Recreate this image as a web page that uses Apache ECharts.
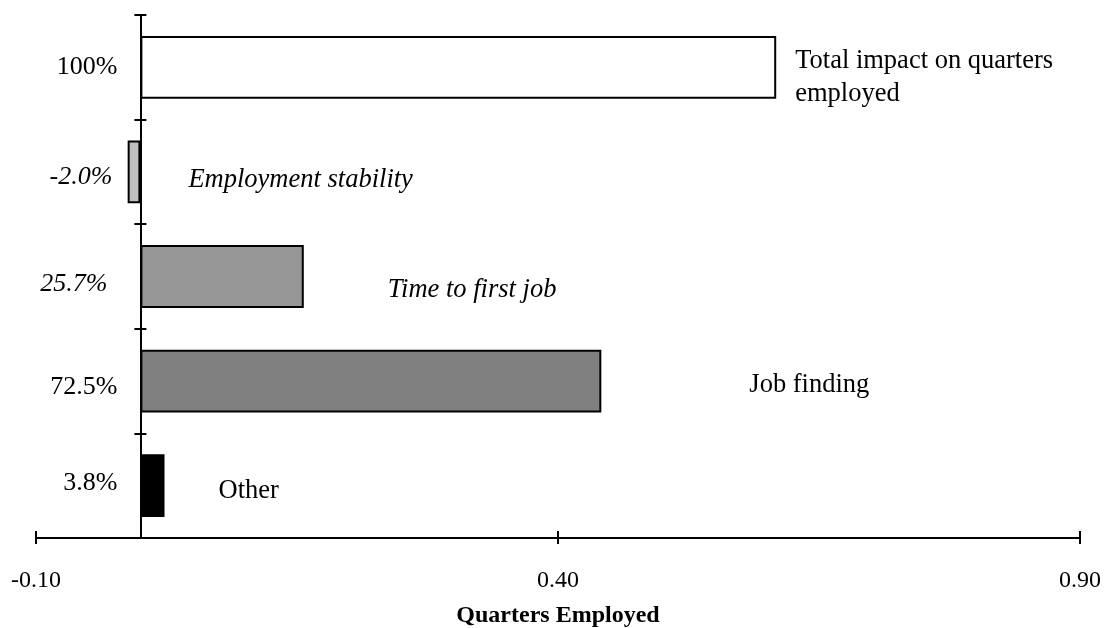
<!DOCTYPE html>
<html>
<head>
<meta charset="utf-8">
<script src="https://cdn.jsdelivr.net/npm/echarts@6/dist/echarts.min.js"></script>
<style>
html,body{margin:0;padding:0;background:#fff;}
#chart{width:1105px;height:628px;}
</style>
</head>
<body>
<div id="chart"></div>
<script>
// ---- data ----
const categories = ['Total impact on quarters employed', 'Employment stability', 'Time to first job', 'Job finding', 'Other'];
const values = [0.609, -0.0122, 0.1565, 0.4415, 0.0231];
const shareLabels = ['100%', '-2.0%', '25.7%', '72.5%', '3.8%'];
const annotationTexts = ['Total impact on quarters\nemployed', 'Employment stability', 'Time to first job', 'Job finding', 'Other'];
const xMin = -0.10, xMax = 0.90, xStep = 0.50;
const xTitle = 'Quarters Employed';

// ---- style ----
const FONT = '"Liberation Serif", "Times New Roman", serif';
const barColors = ['#ffffff', '#c0c0c0', '#969696', '#808080', '#000000'];
const italicIdx = [false, true, true, false, false];
const shareRich = ['p0', 'p1', 'p2', 'p3', 'p4'];
// annotation offsets relative to bar end / bar centre [dx, dy]
const annOffsets = [[19, 10], [48, 8], [84, 14], [148, 4], [54, 5]];
// share-label offsets relative to the zero line / band centre [dx(right edge), dy]
const shareOffsets = [[-23, 0], [-28, 5], [-33, 8], [-23, 6], [-23, -3]];

const chart = echarts.init(document.getElementById('chart'), null, {renderer: 'canvas'});

const option = {
  backgroundColor: '#ffffff',
  animation: false,
  grid: {left: 36, right: 25, top: 15, bottom: 90, containLabel: false, outerBoundsMode: 'none'},
  xAxis: [{
    type: 'value', min: xMin, max: xMax, interval: xStep,
    position: 'bottom',
    splitLine: {show: false},
    axisLine: {show: true, lineStyle: {color: '#000', width: 2}},
    axisTick: {show: true, inside: true, length: 7, lineStyle: {color: '#000', width: 2}},
    axisLabel: {fontFamily: FONT, fontSize: 24, color: '#000', margin: 31,
      formatter: v => v.toFixed(2)},
    name: xTitle, nameLocation: 'middle', nameGap: 66,
    nameTextStyle: {fontFamily: FONT, fontSize: 24, fontWeight: 'bold', color: '#000'}
  }, {
    type: 'value', min: xMin, max: xMax, interval: xStep,
    position: 'bottom',
    splitLine: {show: false},
    axisLine: {show: false},
    axisTick: {show: true, inside: false, length: 6, lineStyle: {color: '#000', width: 2}},
    axisLabel: {show: false}
  }],
  yAxis: [{
    type: 'category', data: categories, inverse: true,
    axisLine: {show: true, onZero: true, lineStyle: {color: '#000', width: 2}},
    axisTick: {show: true, inside: false, length: 6, lineStyle: {color: '#000', width: 2}},
    axisLabel: {show: false}
  }, {
    type: 'category', data: categories, inverse: true, position: 'left',
    axisLine: {show: false, onZero: true},
    axisTick: {show: true, inside: true, length: 6, lineStyle: {color: '#000', width: 2}},
    axisLabel: {show: false}
  }],
  series: [{
    type: 'bar',
    xAxisIndex: 0, yAxisIndex: 0,
    barWidth: '60%',
    data: values.map((v, i) => ({
      value: v,
      itemStyle: {color: barColors[i], borderColor: '#000', borderWidth: 2}
    }))
  }]
};
chart.setOption(option);

// texts placed relative to each bar through the axes
const graphics = [];
values.forEach((v, i) => {
  const p = chart.convertToPixel({xAxisIndex: 0, yAxisIndex: 0}, [Math.max(v, 0), categories[i]]);
  const z = chart.convertToPixel({xAxisIndex: 0, yAxisIndex: 0}, [0, categories[i]]);
  const font = (italicIdx[i] ? 'italic ' : '') + '26.5px ' + FONT;
  graphics.push({
    type: 'text',
    x: p[0] + annOffsets[i][0],
    y: p[1] + annOffsets[i][1],
    style: {
      text: annotationTexts[i], font: font, fill: '#000',
      textAlign: 'left', align: 'left',
      textVerticalAlign: 'middle', verticalAlign: 'middle',
      lineHeight: 33
    }
  });
  graphics.push({
    type: 'text',
    x: z[0] + shareOffsets[i][0],
    y: z[1] + shareOffsets[i][1],
    style: {
      text: shareLabels[i], font: (italicIdx[i] ? 'italic ' : '') + '26px ' + FONT, fill: '#000',
      textAlign: 'right', align: 'right',
      textVerticalAlign: 'middle', verticalAlign: 'middle'
    }
  });
});
chart.setOption({graphic: graphics});
</script>
</body>
</html>
